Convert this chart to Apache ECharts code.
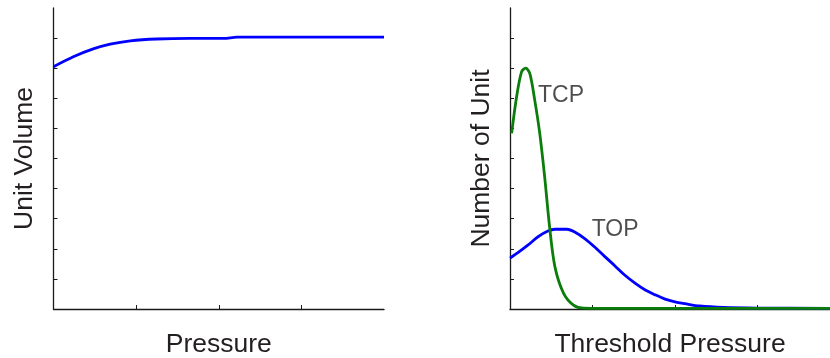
<!DOCTYPE html>
<html>
<head>
<meta charset="utf-8">
<script src="https://cdn.jsdelivr.net/npm/echarts@6/dist/echarts.min.js"></script>
<style>
  html, body { margin: 0; padding: 0; background: #fff; }
  #chart { width: 830px; height: 358px; }
</style>
</head>
<body>
<div id="chart"></div>
<script>
// Unit volume versus pressure
const volPressure = [0, 0.24, 0.48, 0.685, 0.93, 1.25, 1.65, 2.06, 2.22, 4.0];
const volValue    = [8.05, 8.38, 8.64, 8.8, 8.91, 8.97, 8.99, 8.99, 9.03, 9.03];

// Threshold capillary pressure (TCP) distribution
const tcpPressure = [0.02, 0.08, 0.14, 0.19, 0.24, 0.30, 0.36, 0.42, 0.48, 0.545, 0.65, 0.77, 0.89, 1.5, 2.5, 3.88];
const tcpCount    = [5.84, 7.05, 7.88, 8.0, 7.83, 6.94, 5.85, 4.4, 2.73, 1.4, 0.52, 0.13, 0.03, 0.02, 0.02, 0.02];

// Threshold opening pressure (TOP) distribution
const topPressure = [0, 0.10, 0.22, 0.34, 0.46, 0.545, 0.69, 0.79, 0.91, 1.03, 1.15, 1.27, 1.39, 1.52, 1.64, 1.76, 1.88, 2.0, 2.12, 2.3, 2.59, 3.0, 3.88];
const topCount    = [1.69, 1.88, 2.13, 2.40, 2.59, 2.65, 2.65, 2.55, 2.33, 2.05, 1.74, 1.44, 1.13, 0.85, 0.63, 0.47, 0.33, 0.24, 0.18, 0.1, 0.05, 0.03, 0.02];

// Curve labels and where they sit
const curveLabels   = ['TCP', 'TOP'];
const labelPressure = [0.34, 0.99];
const labelCount    = [7.08, 2.62];

const yTicks = [1, 2, 3, 4, 5, 6, 7, 8, 9];
const xTicks = [1, 2, 3];

const zip = (xs, ys) => xs.map((x, i) => [x, ys[i]]);

const FONT = 'Liberation Sans, Arial, sans-serif';
const axisLine = { show: true, onZero: false, lineStyle: { color: '#1a1a1a', width: 1.3 } };
const tickStyle = { show: true, inside: true, length: 4, lineStyle: { color: '#1a1a1a', width: 1 } };
const nameStyle = { fontFamily: FONT, fontSize: 26.5, color: '#231f20' };

function xAxisFor(gridIndex, max, name) {
  return {
    type: 'value', gridIndex, min: 0, max, interval: 1,
    name, nameLocation: 'middle', nameGap: 22, nameTextStyle: nameStyle,
    axisLine,
    axisTick: Object.assign({ customValues: xTicks }, tickStyle),
    axisLabel: { show: false },
    splitLine: { show: false }
  };
}
function yAxisFor(gridIndex, name) {
  return {
    type: 'value', gridIndex, min: 0, max: 10, interval: 1,
    name, nameLocation: 'middle', nameGap: 15, nameTextStyle: nameStyle,
    axisLine,
    axisTick: Object.assign({ customValues: yTicks }, tickStyle),
    axisLabel: { show: false },
    splitLine: { show: false }
  };
}

const chart = echarts.init(document.getElementById('chart'), null, { renderer: 'canvas' });
chart.setOption({
  animation: false,
  backgroundColor: '#ffffff',
  grid: [
    { left: 53.5, right: 446, top: 8, bottom: 49, outerBoundsMode: 'none' },
    { left: 510, right: 0, top: 8, bottom: 49, outerBoundsMode: 'none' }
  ],
  xAxis: [
    xAxisFor(0, 4, 'Pressure'),
    xAxisFor(1, 3.88, 'Threshold Pressure')
  ],
  yAxis: [
    yAxisFor(0, 'Unit Volume'),
    yAxisFor(1, 'Number of Unit')
  ],
  series: [
    {
      name: 'Unit Volume', type: 'line', xAxisIndex: 0, yAxisIndex: 0,
      data: zip(volPressure, volValue), smooth: 0.3, showSymbol: false,
      lineStyle: { color: '#0000ff', width: 2.8 }
    },
    {
      name: 'TOP', type: 'line', xAxisIndex: 1, yAxisIndex: 1,
      data: zip(topPressure, topCount), smooth: 0.3, showSymbol: false,
      lineStyle: { color: '#0000ff', width: 2.8 }
    },
    {
      name: 'TCP', type: 'line', xAxisIndex: 1, yAxisIndex: 1,
      data: zip(tcpPressure, tcpCount), smooth: 0.3, showSymbol: false,
      lineStyle: { color: '#0a7d0a', width: 2.8 }
    },
    {
      name: 'labels', type: 'scatter', xAxisIndex: 1, yAxisIndex: 1,
      symbolSize: 0, silent: true,
      data: curveLabels.map((n, i) => ({ name: n, value: [labelPressure[i], labelCount[i]] })),
      label: {
        show: true, position: 'right', distance: 0,
        formatter: p => p.name,
        fontFamily: FONT, fontSize: 23, color: '#231f20'
      }
    }
  ]
});
</script>
</body>
</html>
